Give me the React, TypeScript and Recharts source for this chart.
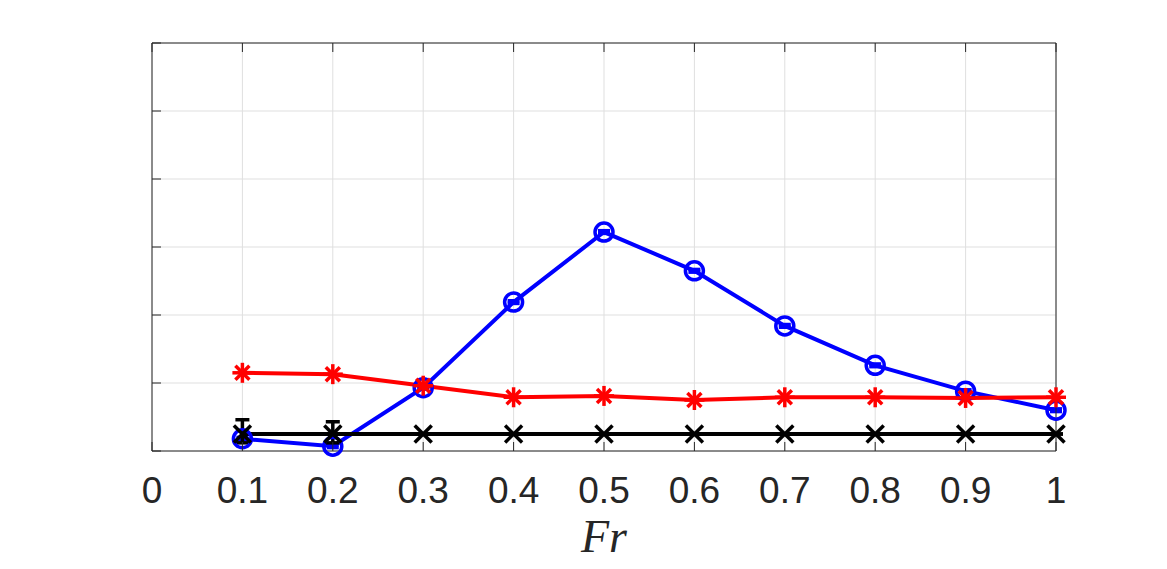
import { LineChart, Line, XAxis, YAxis, CartesianGrid, ErrorBar } from "recharts";

const FR = [0.1, 0.2, 0.3, 0.4, 0.5, 0.6, 0.7, 0.8, 0.9, 1.0];
const BLUE = [0.18, 0.07, 0.93, 2.19, 3.22, 2.65, 1.84, 1.26, 0.88, 0.6];
const RED = [1.15, 1.13, 0.96, 0.79, 0.81, 0.75, 0.79, 0.79, 0.78, 0.79];
const BLACK = [0.25, 0.25, 0.25, 0.25, 0.25, 0.25, 0.25, 0.25, 0.25, 0.25];
const BLACK_ERR: [number, number][] = [
  [0.13, 0.21],
  [0.13, 0.18],
  [0, 0],
  [0, 0],
  [0, 0],
  [0, 0],
  [0, 0],
  [0, 0],
  [0, 0],
  [0, 0],
];
const BLUE_ERR = [0.02, 0.02, 0.02, 0.02, 0.02, 0.02, 0.02, 0.02, 0.02, 0.02];
const X_TICKS = [0, 0.1, 0.2, 0.3, 0.4, 0.5, 0.6, 0.7, 0.8, 0.9, 1];
const Y_TICKS = [0, 1, 2, 3, 4, 5, 6];

const data = FR.map((x, i) => ({
  x,
  blue: BLUE[i],
  red: RED[i],
  black: BLACK[i],
  blackErr: BLACK_ERR[i],
  blueErr: BLUE_ERR[i],
}));

const AXIS = "#262626";
const PLOT_LEFT = 152;
const PLOT_RIGHT = 1056;
const PLOT_TOP = 43;
const PLOT_BOTTOM = 451;
const TICK_LEN = 9;

function CircleDot(props: any) {
  const { cx, cy } = props;
  return <circle cx={cx} cy={cy} r={9} fill="none" stroke="#0000ff" strokeWidth={3.5} />;
}

function StarDot(props: any) {
  const { cx, cy } = props;
  const r = 10;
  const d = 7;
  return (
    <g stroke="#ff0000" strokeWidth={3.5}>
      <line x1={cx - r} y1={cy} x2={cx + r} y2={cy} />
      <line x1={cx} y1={cy - r} x2={cx} y2={cy + r} />
      <line x1={cx - d} y1={cy - d} x2={cx + d} y2={cy + d} />
      <line x1={cx - d} y1={cy + d} x2={cx + d} y2={cy - d} />
    </g>
  );
}

function CrossDot(props: any) {
  const { cx, cy } = props;
  const d = 8.5;
  return (
    <g stroke="#000" strokeWidth={3.5}>
      <line x1={cx - d} y1={cy - d} x2={cx + d} y2={cy + d} />
      <line x1={cx - d} y1={cy + d} x2={cx + d} y2={cy - d} />
    </g>
  );
}

function BottomTick(props: any) {
  const { x, payload } = props;
  return (
    <g>
      <line x1={x} y1={PLOT_BOTTOM} x2={x} y2={PLOT_BOTTOM - TICK_LEN} stroke={AXIS} strokeWidth={1} />
      <text x={x} y={503} textAnchor="middle" fill={AXIS} fontSize={37} fontFamily="Liberation Sans, Arial, sans-serif">
        {String(payload.value)}
      </text>
    </g>
  );
}

function TopTick(props: any) {
  const { x } = props;
  return <line x1={x} y1={PLOT_TOP} x2={x} y2={PLOT_TOP + TICK_LEN} stroke={AXIS} strokeWidth={1} />;
}

function LeftTick(props: any) {
  const { y } = props;
  return <line x1={PLOT_LEFT} y1={y} x2={PLOT_LEFT + TICK_LEN} y2={y} stroke={AXIS} strokeWidth={1} />;
}

function RightTick(props: any) {
  const { y } = props;
  return <line x1={PLOT_RIGHT} y1={y} x2={PLOT_RIGHT - TICK_LEN} y2={y} stroke={AXIS} strokeWidth={1} />;
}

function FrLabel(props: any) {
  const vb = props.viewBox;
  return (
    <text
      x={vb.x + vb.width / 2}
      y={552}
      textAnchor="middle"
      fill={AXIS}
      fontSize={46}
      fontStyle="italic"
      fontFamily="Liberation Serif, serif"
    >
      Fr
    </text>
  );
}

export default function App() {
  return (
    <div style={{ position: "absolute", left: 0, top: 0, width: 1167, height: 569, background: "#fff" }}>
      <LineChart width={1167} height={569} data={data} margin={{ top: 33, right: 101, bottom: 88, left: 142 }}>
        <CartesianGrid stroke="#dfdfdf" strokeWidth={1} />
        <XAxis
          dataKey="x"
          type="number"
          domain={[0, 1]}
          ticks={X_TICKS}
          height={30}
          axisLine={{ stroke: AXIS, strokeWidth: 1 }}
          tickLine={false}
          tick={<BottomTick />}
          interval={0}
          label={<FrLabel />}
        />
        <XAxis
          xAxisId="top"
          dataKey="x"
          type="number"
          orientation="top"
          domain={[0, 1]}
          ticks={X_TICKS}
          height={10}
          axisLine={{ stroke: AXIS, strokeWidth: 1 }}
          tickLine={false}
          tick={<TopTick />}
          interval={0}
        />
        <YAxis
          type="number"
          domain={[0, 6]}
          ticks={Y_TICKS}
          width={10}
          axisLine={{ stroke: AXIS, strokeWidth: 1 }}
          tickLine={false}
          tick={<LeftTick />}
          interval={0}
        />
        <YAxis
          yAxisId="right"
          orientation="right"
          type="number"
          domain={[0, 6]}
          ticks={Y_TICKS}
          width={10}
          axisLine={{ stroke: AXIS, strokeWidth: 1 }}
          tickLine={false}
          tick={<RightTick />}
          interval={0}
        />
        <Line
          type="linear"
          dataKey="blue"
          stroke="#0000ff"
          strokeWidth={4}
          dot={(p: any) => <CircleDot {...p} key={"c" + p.index} />}
          isAnimationActive={false}
        >
          <ErrorBar dataKey="blueErr" direction="y" width={6} stroke="#0000ff" strokeWidth={3.5} />
        </Line>
        <Line
          type="linear"
          dataKey="red"
          stroke="#ff0000"
          strokeWidth={4}
          dot={(p: any) => <StarDot {...p} key={"s" + p.index} />}
          isAnimationActive={false}
        />
        <Line
          type="linear"
          dataKey="black"
          stroke="#000000"
          strokeWidth={4}
          dot={(p: any) => <CrossDot {...p} key={"x" + p.index} />}
          isAnimationActive={false}
        >
          <ErrorBar dataKey="blackErr" direction="y" width={7} stroke="#000000" strokeWidth={3.5} />
        </Line>
      </LineChart>
    </div>
  );
}
